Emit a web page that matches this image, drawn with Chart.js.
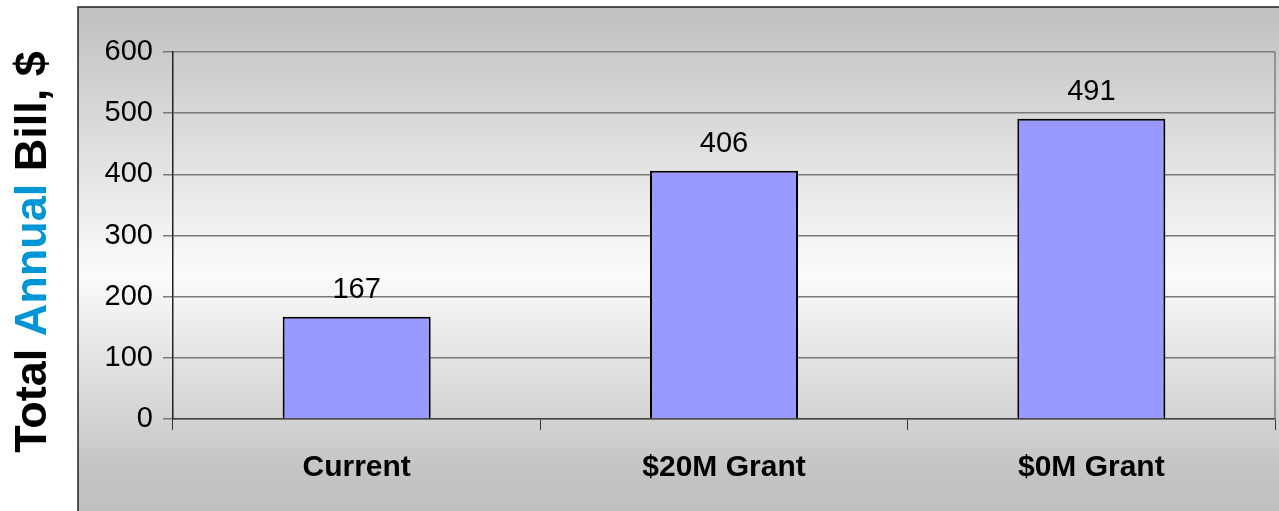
<!DOCTYPE html>
<html>
<head>
<meta charset="utf-8">
<script src="https://cdn.jsdelivr.net/npm/chart.js@4/dist/chart.umd.min.js"></script>
<style>
  html, body { margin: 0; padding: 0; background: #fff; }
  #wrap { width: 1279px; height: 511px; }
</style>
</head>
<body>
<div id="wrap"><canvas id="myChart" width="1279" height="511"></canvas></div>
<script>
// data
var categories = ["Current", "$20M Grant", "$0M Grant"];
var billValues = [167, 406, 491];
var yTicks = [0, 100, 200, 300, 400, 500, 600];
var titleParts = [
  { text: "Total ", color: "#000000" },
  { text: "Annual", color: "#0096d6" },
  { text: " Bill, $", color: "#000000" }
];

var fontFamily = "'Liberation Sans', Arial, sans-serif";

// grey panel behind everything
var panelPlugin = {
  id: "panel",
  beforeDraw: function (chart) {
    var ctx = chart.ctx;
    var w = chart.width, h = chart.height;
    ctx.save();
    ctx.fillStyle = "#ffffff";
    ctx.fillRect(0, 0, w, h);
    var px = 78, py = 7;
    var grad = ctx.createLinearGradient(0, py, 0, h);
    grad.addColorStop(0, "#c0c0c0");
    grad.addColorStop(0.53, "#fbfbfb");
    grad.addColorStop(0.92, "#c4c4c4");
    grad.addColorStop(1, "#c0c0c0");
    ctx.fillStyle = grad;
    ctx.fillRect(px, py, w - px, h - py);
    ctx.strokeStyle = "#222222";
    ctx.lineWidth = 1.5;
    ctx.beginPath();
    ctx.moveTo(px, h);
    ctx.lineTo(px, py);
    ctx.lineTo(w, py);
    ctx.stroke();
    ctx.restore();
  },
  afterDatasetsDraw: function (chart) {
    var ctx = chart.ctx;
    var area = chart.chartArea;
    ctx.save();
    // right border of plot area
    ctx.strokeStyle = "#808080";
    ctx.lineWidth = 1.5;
    ctx.beginPath();
    ctx.moveTo(area.right, area.top);
    ctx.lineTo(area.right, area.bottom);
    ctx.stroke();

    // values above bars
    ctx.fillStyle = "#000000";
    ctx.font = "29px " + fontFamily;
    ctx.textAlign = "center";
    ctx.textBaseline = "alphabetic";
    var meta = chart.getDatasetMeta(0);
    meta.data.forEach(function (bar, i) {
      ctx.fillText(String(billValues[i]), bar.x, bar.y - 19);
    });

    // y axis title, several colours
    ctx.font = "bold 45px " + fontFamily;
    var total = 0;
    titleParts.forEach(function (p) { total += ctx.measureText(p.text).width; });
    ctx.translate(46, 252);
    ctx.rotate(-Math.PI / 2);
    ctx.textAlign = "left";
    var x = -total / 2;
    titleParts.forEach(function (p) {
      ctx.fillStyle = p.color;
      ctx.fillText(p.text, x, 0);
      x += ctx.measureText(p.text).width;
    });
    ctx.restore();
  }
};

var ctx = document.getElementById("myChart").getContext("2d");
var chart = new Chart(ctx, {
  type: "bar",
  data: {
    labels: categories,
    datasets: [{
      label: "Total Annual Bill",
      data: billValues,
      backgroundColor: "#9999ff",
      borderColor: "#000000",
      borderWidth: 2,
      categoryPercentage: 1,
      barPercentage: 0.403
    }]
  },
  options: {
    responsive: false,
    animation: false,
    layout: { padding: { top: 52, right: 4, left: 0, bottom: 0 } },
    plugins: {
      legend: { display: false },
      tooltip: { enabled: false }
    },
    scales: {
      x: {
        afterFit: function (s) { s.height = 92; },
        grid: {
          display: true,
          drawOnChartArea: false,
          drawTicks: true,
          tickLength: 11,
          color: "#333333",
          lineWidth: 1
        },
        border: { display: true, color: "#444444", width: 1.5 },
        ticks: {
          color: "#000000",
          padding: 20,
          font: { family: fontFamily, size: 30, weight: "bold" }
        }
      },
      y: {
        min: 0,
        max: 600,
        afterFit: function (s) { s.width = 173; },
        afterBuildTicks: function (s) {
          s.ticks = yTicks.map(function (v) { return { value: v }; });
        },
        grid: {
          color: "#7a7a7a",
          lineWidth: 1.5,
          tickLength: 10
        },
        border: { display: true, color: "#222222", width: 1.5 },
        ticks: {
          color: "#000000",
          padding: 10,
          font: { family: fontFamily, size: 29 }
        }
      }
    }
  },
  plugins: [panelPlugin]
});
</script>
</body>
</html>
